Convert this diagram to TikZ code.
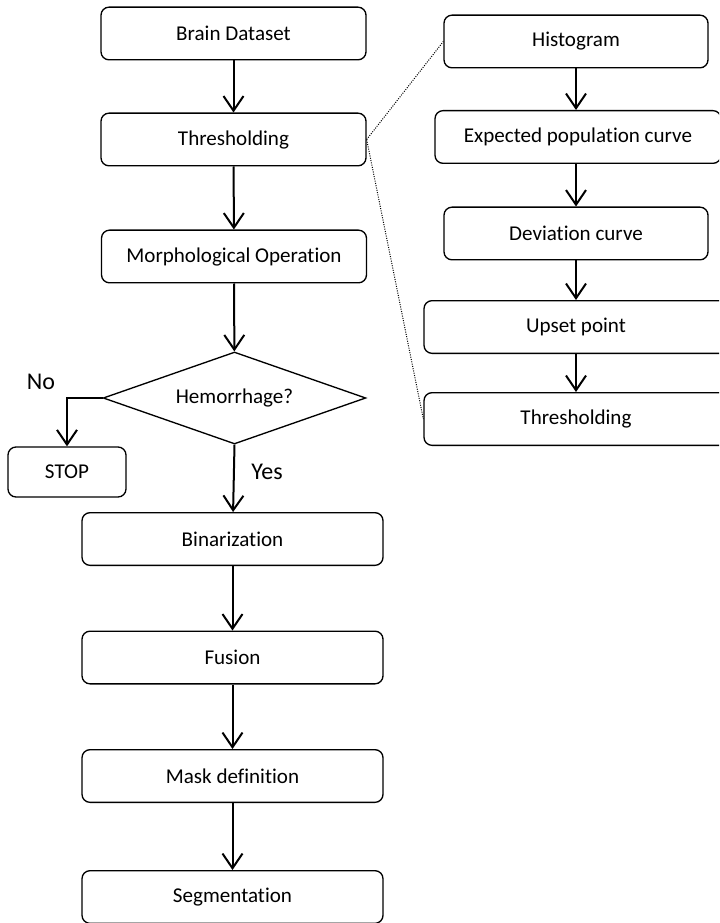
\documentclass[tikz,border=0pt]{standalone}
\usepackage{fontspec}
\setmainfont{Carlito}[Ligatures=NoCommon]
\usepackage{tikz}
\usetikzlibrary{positioning,arrows.meta,shapes.geometric}

\begin{document}
\begin{tikzpicture}[
  x=0.75pt, y=-0.75pt,
  txt/.style={font=\fontsize{15.8pt}{19pt}\selectfont},
  lbl/.style={font=\fontsize{18pt}{21pt}\selectfont, inner sep=1pt},
  stepbox/.style={txt, draw=black, line width=1pt, rounded corners=6pt, minimum width=198.75pt, minimum height=39.5pt, inner sep=0pt},
  widebox/.style={stepbox, minimum width=225.75pt},
  decision/.style={txt, diamond, draw=black, line width=1pt, shape aspect=2.86, minimum width=197pt, minimum height=69pt, inner sep=0pt},
  flow/.style={draw=black, line width=1.5pt, -{Straight Barb[length=11pt,width=15pt,line width=1.5pt]}},
  zoomline/.style={draw=black, line width=0.75pt, densely dotted}
]
\clip (0,0) rectangle (719,923);

% main pipeline
\node[stepbox] (brain) at (233.5, 33.5) {Brain Dataset};
\node[stepbox] (thr) at (233.5, 139.5) {Thresholding};
\node[stepbox] (morph) at (234, 256.5) {Morphological Operation};
\node[decision] (hem) at (234.5, 398) {Hemorrhage?};
\node[stepbox, minimum width=88.5pt, minimum height=37.5pt] (stop) at (67, 472) {STOP};
\node[widebox] (bin) at (232.5, 539) {Binarization};
\node[widebox] (fus) at (232.5, 657.5) {Fusion};
\node[widebox] (mask) at (232.5, 776) {Mask definition};
\node[widebox] (seg) at (232.5, 897) {Segmentation};

% thresholding detail
\node[stepbox, minimum width=198pt] (hist) at (576, 41.5) {Histogram};
\node[stepbox, minimum width=214.5pt] (expct) at (578, 137) {Expected population curve};
\node[stepbox, minimum width=198pt] (dev) at (576, 233.5) {Deviation curve};
\node[stepbox, minimum width=228pt] (upset) at (576, 327) {Upset point};
\node[stepbox, minimum width=228pt] (thr2) at (576, 419) {Thresholding};

\draw[flow] (brain) -- (thr);
\draw[flow] (thr) -- (morph);
\draw[flow] (morph) -- (hem);
\draw[flow] (hem.south) -- (bin);
\draw[flow] (hem.west) -| (stop.north);
\draw[flow] (bin) -- (fus);
\draw[flow] (fus) -- (mask);
\draw[flow] (mask) -- (seg);

\draw[flow] (hist) -- (hist |- expct.north);
\draw[flow] (hist |- expct.south) -- (dev);
\draw[flow] (dev) -- (dev |- upset.north);
\draw[flow] (dev |- upset.south) -- (dev |- thr2.north);

\draw[zoomline] (thr.east) -- (hist.west);
\draw[zoomline] (thr.east) -- (thr2.west);

\node[lbl] (no) at (41, 382) {No};
\node[lbl] (yes) at (267, 472) {Yes};

\end{tikzpicture}
\end{document}
